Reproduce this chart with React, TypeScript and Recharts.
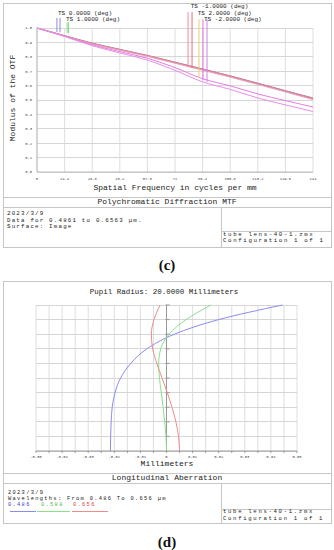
import React from 'react';
import { LineChart, Line, XAxis, YAxis, CartesianGrid, ReferenceLine } from 'recharts';

// ---------- Polychromatic Diffraction MTF ----------
const mtfFreq = [0, 14.4, 28.8, 43.2, 57.6, 72, 86.4, 100.8, 115.2, 129.6, 144];
const mtfYTicks = [0, 0.1, 0.2, 0.3, 0.4, 0.5, 0.6, 0.7, 0.8, 0.9, 1.0];
const mtfDiffLimit = [1, 0.947, 0.895, 0.852, 0.81, 0.763, 0.716, 0.668, 0.617, 0.565, 0.514];
const mtfField1 = [1, 0.946, 0.893, 0.85, 0.808, 0.761, 0.713, 0.665, 0.614, 0.562, 0.511];
const mtfField3 = [1, 0.945, 0.891, 0.848, 0.806, 0.758, 0.71, 0.662, 0.611, 0.559, 0.507];
const mtfField4 = [1, 0.944, 0.889, 0.846, 0.803, 0.755, 0.707, 0.659, 0.608, 0.556, 0.503];
const mtfField5T = [1, 0.943, 0.883, 0.836, 0.79, 0.725, 0.648, 0.598, 0.542, 0.496, 0.451];
const mtfField5S = [1, 0.941, 0.877, 0.827, 0.777, 0.706, 0.626, 0.574, 0.514, 0.466, 0.42];

const mtfSeries = [
  { key: 'dl', color: '#a07a9c' },
  { key: 'f1', color: '#d98a9a' },
  { key: 'f3', color: '#e4808a' },
  { key: 'f4', color: '#eaa0c4' },
  { key: 'f5t', color: '#e27ee2' },
  { key: 'f5s', color: '#e98de9' },
];

const mtfRows = mtfFreq.map((f, i) => ({
  f,
  dl: mtfDiffLimit[i],
  f1: mtfField1[i],
  f3: mtfField3[i],
  f4: mtfField4[i],
  f5t: mtfField5T[i],
  f5s: mtfField5S[i],
}));

// leader lines for field labels
const leaderFreq = [10.4, 12.0, 15.7, 16.4, 78.8, 80.9, 84.5, 86.6, 88.7];
const leaderTop = [1.07, 1.07, 1.04, 1.04, 1.11, 1.11, 1.06, 1.06, 1.06];
const leaderBottom = [0.972, 0.97, 0.965, 0.963, 0.743, 0.722, 0.653, 0.639, 0.625];
const leaderColor = ['#8a8ae8', '#8a8ae8', '#8ad88a', '#8ad88a', '#f08aa8', '#e87070', '#e8d070', '#e070e0', '#d080e8'];

// ---------- Longitudinal Aberration ----------
const pupil = [0, 0.1, 0.2, 0.3, 0.4, 0.5, 0.6, 0.7, 0.8, 0.9, 1.0];
const aberr486 = [-0.0215, -0.0214, -0.0212, -0.0208, -0.0197, -0.0176, -0.0137, -0.0075, 0.003, 0.02, 0.0445];
const aberr588 = [0, -0.0002, -0.0007, -0.0013, -0.002, -0.0027, -0.003, -0.0022, 0.001, 0.0075, 0.017];
const aberr656 = [0.005, 0.0046, 0.0036, 0.0021, 0.0003, -0.0017, -0.0037, -0.0053, -0.0058, -0.0048, -0.0024];
const aberrTicks = [
  -0.05, -0.045, -0.04, -0.035, -0.03, -0.025, -0.02, -0.015, -0.01, -0.005, 0,
  0.005, 0.01, 0.015, 0.02, 0.025, 0.03, 0.035, 0.04, 0.045, 0.05,
];
const aberrRows = pupil.map((p, i) => ({ p, b: aberr486[i], g: aberr588[i], r: aberr656[i] }));

const MONO = '"Liberation Mono", "DejaVu Sans Mono", monospace';
const FRAME = '#c6c6c6';
const GRID = '#dedede';
const HGRID = '#d6d6d6';

function Txt(props: any) {
  const { x, y, size = 8, color = '#222', children, center = false, lh, ls = 0 } = props;
  const h = lh || size;
  const style: any = {
    position: 'absolute',
    top: y - h / 2,
    height: h,
    fontSize: size,
    lineHeight: `${h}px`,
    letterSpacing: ls,
    color,
    whiteSpace: 'pre',
    fontFamily: MONO,
  };
  if (center) {
    style.left = x - 160;
    style.width = 320;
    style.textAlign = 'center';
  } else {
    style.left = x;
  }
  return <div style={style}>{children}</div>;
}

function HL({ x1, x2, y, color = FRAME }: any) {
  return <div style={{ position: 'absolute', left: x1, top: y, width: x2 - x1, height: 1, background: color }} />;
}
function VL({ x, y1, y2, color = FRAME }: any) {
  return <div style={{ position: 'absolute', left: x, top: y1, width: 1, height: y2 - y1, background: color }} />;
}

const fmtMtfX = (v: number) => String(v);
const fmtMtfY = (v: number) => v.toFixed(1);
const fmtAb = (v: number) => {
  const k = Math.round(v * 1000);
  if (k % 10 !== 0) return '';
  if (k === 0) return '0';
  return v.toFixed(2);
};

export default function App() {
  const tickStyle = { fontSize: 3.8, fill: '#444', fontFamily: MONO };
  return (
    <div style={{ position: 'absolute', left: 0, top: 0, width: 334, height: 550, background: '#fff', overflow: 'hidden' }}>
      {/* ===== Top panel frame ===== */}
      <div style={{ position: 'absolute', left: 3, top: 3, width: 327, height: 243, border: `1px solid ${FRAME}` }} />
      <HL x1={3} x2={331} y={197} />
      <HL x1={3} x2={331} y={207} />
      <VL x={221} y1={207} y2={247} />
      <HL x1={221} x2={331} y={231} />

      <div style={{ position: 'absolute', left: 0, top: 0 }}>
        <LineChart width={334} height={200} data={mtfRows} margin={{ top: 28, right: 21, bottom: 16, left: 25 }}>
          <CartesianGrid stroke={GRID} horizontal={false} />
          {mtfYTicks.map((v) => (
            <ReferenceLine
              key={'hy' + v}
              segment={[{ x: mtfFreq[0], y: v }, { x: mtfFreq[mtfFreq.length - 1], y: v }]}
              stroke={HGRID}
              strokeWidth={1}
              shapeRendering="crispEdges"
              ifOverflow="visible"
            />
          ))}
          <XAxis
            dataKey="f"
            type="number"
            domain={[0, 144]}
            ticks={mtfFreq}
            height={12}
            tickFormatter={fmtMtfX}
            tick={tickStyle}
            tickLine={false}
            tickSize={0}
            tickMargin={5}
            axisLine={{ stroke: '#bbb' }}
            interval={0}
          />
          <YAxis
            type="number"
            domain={[0, 1]}
            ticks={mtfYTicks}
            width={12}
            tickFormatter={fmtMtfY}
            tick={tickStyle}
            tickLine={false}
            tickSize={0}
            tickMargin={5}
            axisLine={{ stroke: '#bbb' }}
            interval={0}
          />
          {mtfSeries.map((s) => (
            <Line key={s.key} dataKey={s.key} type="monotone" stroke={s.color} strokeWidth={1} dot={false} isAnimationActive={false} />
          ))}
          {leaderFreq.map((f, i) => (
            <ReferenceLine
              key={'ld' + i}
              segment={[{ x: f, y: leaderTop[i] }, { x: f, y: leaderBottom[i] }]}
              stroke={leaderColor[i]}
              strokeWidth={1}
              ifOverflow="visible"
            />
          ))}
        </LineChart>
      </div>

      <Txt x={58} y={13.5} size={6} lh={5.5}>TS 0.0000 (deg)</Txt>
      <Txt x={66} y={19.3} size={6} lh={5.5}>TS 1.0000 (deg)</Txt>
      <Txt x={190.7} y={6.9} size={6} lh={5.5}>TS -1.0000 (deg)</Txt>
      <Txt x={197.7} y={13.3} size={6} lh={5.5}>TS 2.0000 (deg)</Txt>
      <Txt x={204} y={19.3} size={6} lh={5.5}>TS -2.0000 (deg)</Txt>

      <div
        style={{
          position: 'absolute',
          left: 13 - 60,
          top: 98 - 5,
          width: 120,
          height: 10,
          lineHeight: '10px',
          textAlign: 'center',
          fontSize: 8,
          fontFamily: MONO,
          color: '#222',
          transform: 'rotate(-90deg)',
          whiteSpace: 'pre',
        }}
      >
        Modulus of the OTF
      </div>
      <Txt x={175} y={187.5} size={8} center>Spatial Frequency in cycles per mm</Txt>
      <Txt x={167} y={202} size={8} center>Polychromatic Diffraction MTF</Txt>
      <Txt x={7} y={214.5} size={5.8} lh={6.3} ls={1.2}>2023/3/9</Txt>
      <Txt x={7} y={220.8} size={5.8} lh={6.3} ls={1.2}>Data for 0.4861 to 0.6563 µm.</Txt>
      <Txt x={7} y={227.1} size={5.8} lh={6.3} ls={1.2}>Surface: Image</Txt>
      <Txt x={223} y={235} size={5.8} lh={6.6} ls={1.6}>tube lens-40-1.zmx</Txt>
      <Txt x={223} y={241.7} size={5.8} lh={6.6} ls={1.6}>Configuration 1 of 1</Txt>

      <div style={{ position: 'absolute', left: 117, width: 100, top: 256, textAlign: 'center', fontFamily: '"Liberation Serif", "Times New Roman", serif', fontWeight: 'bold', fontSize: 15, lineHeight: '18px', color: '#111' }}>(c)</div>

      {/* ===== Bottom panel frame ===== */}
      <div style={{ position: 'absolute', left: 3, top: 281, width: 327, height: 241, border: `1px solid ${FRAME}` }} />
      <HL x1={3} x2={331} y={473} />
      <HL x1={3} x2={331} y={483} />
      <VL x={221} y1={483} y2={523} />
      <HL x1={221} x2={331} y={509} />

      <div style={{ position: 'absolute', left: 0, top: 280 }}>
        <LineChart layout="vertical" width={334} height={200} data={aberrRows} margin={{ top: 25, right: 37, bottom: 17, left: 26 }}>
          <CartesianGrid stroke={GRID} horizontal={false} />
          {pupil.map((p) => (
            <ReferenceLine
              key={'hp' + p}
              segment={[{ x: aberrTicks[0], y: p }, { x: aberrTicks[aberrTicks.length - 1], y: p }]}
              stroke={HGRID}
              strokeWidth={1}
              shapeRendering="crispEdges"
              ifOverflow="visible"
            />
          ))}
          <XAxis
            type="number"
            domain={[-0.05, 0.05]}
            ticks={aberrTicks}
            height={12}
            tickFormatter={fmtAb}
            tick={tickStyle}
            tickSize={2}
            tickMargin={2}
            tickLine={{ stroke: '#999' }}
            axisLine={{ stroke: '#999' }}
            interval={0}
          />
          <YAxis
            type="number"
            dataKey="p"
            domain={[0, 1]}
            ticks={pupil}
            width={10}
            tick={false}
            tickLine={false}
            axisLine={false}
            reversed
          />
          <ReferenceLine x={0} stroke="#999" />
          {pupil.slice(1).map((p) => (
            <ReferenceLine key={'pt' + p} segment={[{ x: -0.0004, y: p }, { x: 0.0012, y: p }]} stroke="#999" />
          ))}
          <Line dataKey="b" type="monotone" stroke="#8c8cf0" strokeWidth={1} dot={false} isAnimationActive={false} />
          <Line dataKey="g" type="monotone" stroke="#8ce08c" strokeWidth={1} dot={false} isAnimationActive={false} />
          <Line dataKey="r" type="monotone" stroke="#f08c8c" strokeWidth={1} dot={false} isAnimationActive={false} />
        </LineChart>
      </div>

      <Txt x={164} y={293} size={7.5} center>Pupil Radius: 20.0000 Millimeters</Txt>
      <Txt x={167} y={464} size={8} center>Millimeters</Txt>
      <Txt x={167} y={478} size={8} center>Longitudinal Aberration</Txt>
      <Txt x={8} y={492.7} size={5.4} lh={6} ls={1.3}>2023/3/9</Txt>
      <Txt x={8} y={498.7} size={5.4} lh={6} ls={1.3}>Wavelengths: From 0.486 To 0.656 µm</Txt>
      <Txt x={8} y={504.7} size={5.4} lh={6} ls={1.3} color="#3a3ad8">0.486</Txt>
      <Txt x={41} y={504.7} size={5.4} lh={6} ls={1.3} color="#48c048">0.588</Txt>
      <Txt x={73} y={504.7} size={5.4} lh={6} ls={1.3} color="#e03a3a">0.656</Txt>
      <HL x1={10} x2={36} y={511} color="#8c8cf0" />
      <HL x1={37} x2={70} y={511} color="#8ce08c" />
      <HL x1={72} x2={108} y={511} color="#f08c8c" />
      <Txt x={223} y={512.5} size={5.6} lh={6.5} ls={1.7}>tube lens-40-1.zmx</Txt>
      <Txt x={223} y={519} size={5.6} lh={6.5} ls={1.7}>Configuration 1 of 1</Txt>

      <div style={{ position: 'absolute', left: 117, width: 100, top: 533, textAlign: 'center', fontFamily: '"Liberation Serif", "Times New Roman", serif', fontWeight: 'bold', fontSize: 15, lineHeight: '18px', color: '#111' }}>(d)</div>
    </div>
  );
}
